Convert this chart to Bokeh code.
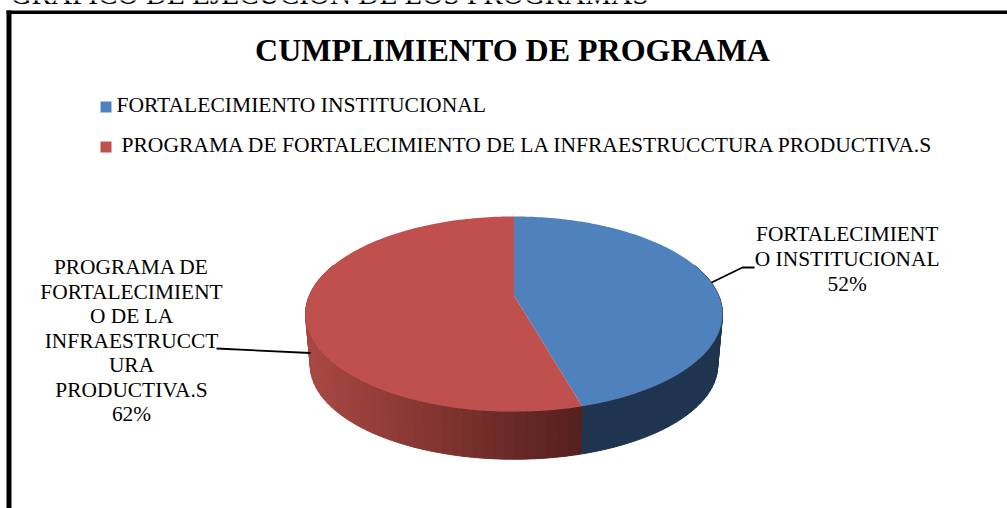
import math
from bokeh.plotting import figure
from bokeh.models import Range1d
from bokeh.core.properties import value
from bokeh.embed import file_html
from bokeh.resources import INLINE

page_title = "GRÁFICO DE EJECUCIÓN DE LOS PROGRAMAS"
chart_title = "CUMPLIMIENTO DE PROGRAMA"
legend_labels = ["FORTALECIMIENTO INSTITUCIONAL",
                 "PROGRAMA DE FORTALECIMIENTO DE LA INFRAESTRUCCTURA PRODUCTIVA.S"]
slice_values = [52, 62]
slice_colors = ["#4F81BD", "#C0504D"]
label_blue = ["FORTALECIMIENT", "O INSTITUCIONAL", "52%"]
label_red = ["PROGRAMA DE", "FORTALECIMIENT", "O DE LA", "INFRAESTRUCCT", "URA", "PRODUCTIVA.S", "62%"]

W, H = 1007, 508
p = figure(width=W, height=H, output_backend="svg", toolbar_location=None,
           x_range=Range1d(0, W), y_range=Range1d(H, 0),
           min_border=0, outline_line_color=None, background_fill_color="white")
p.xaxis.visible = False
p.yaxis.visible = False
p.grid.visible = False

FONT = value("Liberation Serif")

# perspective projection of the pie disc
C = 0.19
CX = 513.5
def top_rim(t, r=1.0):
    u, v = r * math.sin(t), r * math.cos(t)
    d = 1 + C * v
    return CX + 204.7 * u / d, (295 - 38 * v) / d

def low_rim(t):
    u, v = math.sin(t), math.cos(t)
    d = 1 + C * v
    return CX + 200 * u / d, (347 - 24.6 * v) / d

def mix(a, b, f):
    f = max(0, min(1, f))
    return "#%02x%02x%02x" % tuple(round(x + (y - x) * f) for x, y in zip(a, b))

total = sum(slice_values)
boundary = 2 * math.pi * slice_values[0] / total

# frame
p.quad(left=[6], right=[11], top=[10], bottom=[H], fill_color="black", line_color=None)
p.quad(left=[6], right=[W], top=[10], bottom=[13.5], fill_color="black", line_color=None)

# side wall
n = 90
t0, t1 = math.radians(70), math.radians(290)
angles = sorted([t0 + (t1 - t0) * i / n for i in range(n + 1)] + [boundary])
for a, b in zip(angles[:-1], angles[1:]):
    xa, ya = top_rim(a); xb, yb = top_rim(b)
    xc, yc = low_rim(b); xd, yd = low_rim(a)
    if (a + b) / 2 < boundary:
        col = "#1f344e"
    else:
        f = ((xa + xb) / 2 - 310) / (583 - 310)
        col = mix((0xa8, 0x47, 0x42), (0x54, 0x1f, 0x1d), f)
    p.patch([xa, xb, xc, xd], [ya, yb, yc, yd], fill_color=col, line_color=col, line_width=1)

# leader lines, below the disc edge
p.line([754, 742, 709], [267, 267, 283], line_color="black", line_width=1.8)
p.line([216, 310], [348, 352.5], line_color="black", line_width=1.8)

# top faces
start = 0.0
for val, col in zip(slice_values, slice_colors):
    sweep = 2 * math.pi * val / total
    steps = 160
    pts = [top_rim(start + sweep * k / steps) for k in range(steps + 1)]
    xs = [top_rim(0, 0)[0]] + [q[0] for q in pts]
    ys = [top_rim(0, 0)[1]] + [q[1] for q in pts]
    p.patch(xs, ys, fill_color=col, line_color=None)
    start += sweep

# texts (the svg output sits about 0.39 em under the requested baseline)
def txt(x, y, s, size, align="left", style="normal"):
    p.text([x], [y - 0.39 * size], text=[s], text_font=FONT, text_font_size=f"{size}px", text_color="black",
           text_align=align, text_baseline="alphabetic", text_font_style=style)

txt(10, 5, page_title, 29.2)
txt(512, 62, chart_title, 32, "center", "bold")
p.quad(left=[100], right=[111], top=[101], bottom=[112], fill_color=slice_colors[0], line_color=None)
p.quad(left=[100], right=[111], top=[141], bottom=[152], fill_color=slice_colors[1], line_color=None)
txt(116, 113, legend_labels[0], 21.55)
txt(121, 153, legend_labels[1], 21.55)

for i, s in enumerate(label_blue):
    txt(846.7, 241.7 + i * 25, s, 21.4, "center")
for i, s in enumerate(label_red):
    txt(131, 275 + i * 24.5, s, 21.4, "center")

open("out.html", "w").write(file_html(p, INLINE))
